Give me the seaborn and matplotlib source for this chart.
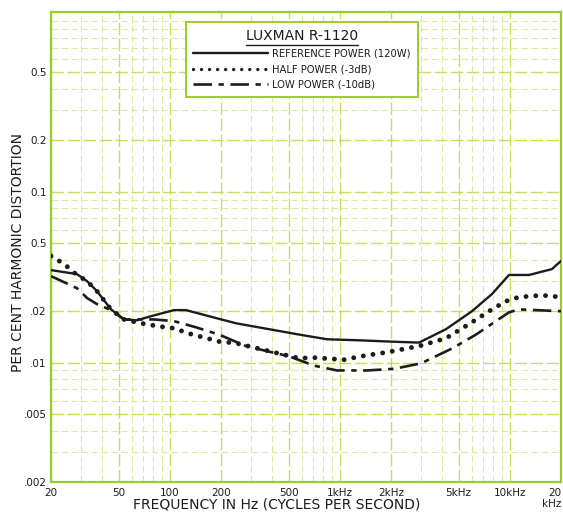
import numpy as np
import pandas as pd
import matplotlib
matplotlib.use("Agg")
import matplotlib.pyplot as plt
from matplotlib.lines import Line2D
from matplotlib.ticker import FixedLocator, NullFormatter
import seaborn as sns

# ---- data ----
ref_freq = [20, 28.4, 32.6, 37.3, 45.1, 53.8, 64.1, 77.5, 105.8, 124.5, 170, 245, 383,
            576, 841, 1333, 1894, 2923, 4214, 5990, 7850, 9890, 12970, 17700, 20000]
ref_thd = [0.0348, 0.0330, 0.0300, 0.0262, 0.0205, 0.0179, 0.0177, 0.0187, 0.0203, 0.0203,
           0.0187, 0.0170, 0.0157, 0.0146, 0.0137, 0.0135, 0.0133, 0.0131, 0.0157, 0.0200,
           0.0252, 0.0326, 0.0326, 0.0353, 0.0394]

half_freq = [20, 23.9, 28.0, 32.6, 37.3, 45.1, 53.8, 67.7, 86.3, 105.8, 129.7, 194.6, 245,
             457, 576, 705, 1058, 1333, 1894, 2923, 4214, 5750, 7850, 9500, 11330, 15460, 20000]
half_thd = [0.0421, 0.0378, 0.0330, 0.0300, 0.0262, 0.0205, 0.0179, 0.0170, 0.0163, 0.0159,
            0.0148, 0.0133, 0.0130, 0.0112, 0.0106, 0.0107, 0.0104, 0.0109, 0.0115, 0.0125,
            0.0139, 0.0168, 0.0205, 0.0229, 0.0242, 0.0248, 0.0242]

low_freq = [20, 28.4, 32.6, 37.3, 45.1, 53.8, 65.9, 80.7, 105.8, 142.6, 194.6, 280.6, 383,
            502, 705, 962, 1445, 2083, 3000, 4571, 6325, 9890, 11330, 14250, 20000]
low_thd = [0.0321, 0.0273, 0.0239, 0.0220, 0.0203, 0.0179, 0.0179, 0.0179, 0.0175, 0.0161,
           0.0146, 0.0125, 0.0116, 0.0109, 0.0096, 0.0090, 0.0090, 0.0092, 0.0099, 0.0121,
           0.0146, 0.0197, 0.0205, 0.0203, 0.0200]

series_labels = ["REFERENCE POWER (120W)", "HALF POWER (-3dB)", "LOW POWER (-10dB)"]
legend_title = "LUXMAN R-1120"

x_ticks = [20, 50, 100, 200, 500, 1000, 2000, 5000, 10000, 20000]
x_ticklabels = ["20", "50", "100", "200", "500", "1kHz", "2kHz", "5kHz", "10kHz", "20\nkHz"]
y_ticks = [0.002, 0.005, 0.01, 0.02, 0.05, 0.1, 0.2, 0.5]
y_ticklabels = [".002", ".005", ".01", ".02", "0.5", "0.1", "0.2", "0.5"]

# ---- style ----
sns.set_style("white")
plt.rcParams["font.family"] = ["DejaVu Sans"]

W, H = 563, 517
fig = plt.figure(figsize=(W / 100, H / 100), dpi=100)
ax = fig.add_axes([51 / W, 1 - 482 / H, 510 / W, 470 / H])

ink = "#1c1c1c"
grid_major = "#c6de5a"
grid_minor = "#dcebA0"
frame = "#9ccc2c"

xmin, xmax = 20, 20000
ymin, ymax = 0.002, 1.13
minor_x = [m * d for d in [10, 100, 1000, 10000] for m in range(1, 10)]
minor_y = [m * d for d in [0.001, 0.01, 0.1, 1.0] for m in range(1, 10)]

ax.set_xscale("log")
ax.set_yscale("log")
ax.set_xlim(xmin, xmax)
ax.set_ylim(ymin, ymax)
ax.set_xticks(x_ticks)
ax.set_xticklabels(x_ticklabels)
ax.set_yticks(y_ticks)
ax.set_yticklabels(y_ticklabels)
ax.xaxis.set_minor_locator(FixedLocator([v for v in minor_x if xmin < v < xmax]))
ax.yaxis.set_minor_locator(FixedLocator([v for v in minor_y if ymin < v < ymax]))
ax.xaxis.set_minor_formatter(NullFormatter())
ax.yaxis.set_minor_formatter(NullFormatter())

ax.grid(which="major", color=grid_major, lw=1.0, linestyle=(0, (9, 2.5)))
ax.grid(which="minor", color=grid_minor, lw=0.8, linestyle=(0, (6, 3)))
ax.set_axisbelow(True)
ax.tick_params(which="both", length=0, labelsize=7.5, colors=ink)
ax.tick_params(axis="x", pad=4)
ax.tick_params(axis="y", pad=3)
last = ax.get_xticklabels()[-1]
last.set_horizontalalignment("right")
last.set_multialignment("right")

for sp in ax.spines.values():
    sp.set_color(frame)
    sp.set_linewidth(1.6)

# ---- curves ----
df_ref = pd.DataFrame({"freq": ref_freq, "thd": ref_thd})
df_half = pd.DataFrame({"freq": half_freq, "thd": half_thd})
df_low = pd.DataFrame({"freq": low_freq, "thd": low_thd})

sns.lineplot(data=df_ref, x="freq", y="thd", ax=ax, color=ink, lw=1.7, zorder=3)
sns.lineplot(data=df_half, x="freq", y="thd", ax=ax, color=ink, lw=3.5,
             linestyle=(0, (0.01, 2.0)), dash_capstyle="round", zorder=3)
sns.lineplot(data=df_low, x="freq", y="thd", ax=ax, color=ink, lw=1.9,
             linestyle=(0, (7, 2.5, 2, 2.5)), zorder=3)

ax.set_xlabel("")
ax.set_ylabel("")
fig.text(277 / W, 1 - 505 / H, "FREQUENCY IN Hz (CYCLES PER SECOND)", fontsize=10,
         color=ink, ha="center", va="center")
fig.text(18 / W, 1 - 252 / H, "PER CENT HARMONIC DISTORTION", fontsize=10,
         color=ink, ha="center", va="center", rotation=90)

# ---- legend ----
handles = [
    Line2D([], [], color=ink, lw=1.7),
    Line2D([], [], color=ink, lw=2.4, linestyle=(0, (0.01, 2.4)), dash_capstyle="round"),
    Line2D([], [], color=ink, lw=1.9, linestyle=(0, (7, 2.5, 2, 2.5))),
]
leg = ax.legend(handles, series_labels, title=legend_title, loc="upper left",
                bbox_to_anchor=(181 / W, 1 - 17 / H), bbox_transform=fig.transFigure,
                fontsize=7.2, title_fontsize=10, handlelength=7.5, handletextpad=0.4,
                labelspacing=0.55, borderpad=0.7, fancybox=False, frameon=True,
                framealpha=1.0)
leg.get_frame().set_edgecolor(frame)
leg.get_frame().set_linewidth(1.4)
for t in leg.get_texts():
    t.set_color(ink)
leg.get_title().set_color(ink)
leg.set_zorder(5)

fig.canvas.draw()
tb = leg.get_title().get_window_extent()
fig.add_artist(Line2D([tb.x0 / W, tb.x1 / W], [(tb.y0 - 2) / H, (tb.y0 - 2) / H],
                      transform=fig.transFigure, color=ink, lw=1.0, zorder=6))

fig.savefig("out.png", dpi=100, facecolor="white")
